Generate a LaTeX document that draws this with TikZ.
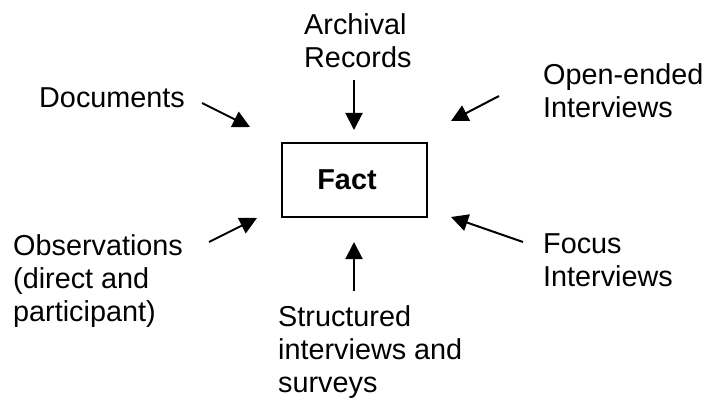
\documentclass[tikz,border=0pt]{standalone}
\usepackage{fontspec}
\setmainfont{Liberation Sans}
\usetikzlibrary{arrows.meta}
\begin{document}
\begin{tikzpicture}[x=1pt, y=-1pt,
  % multi-line labels are anchored at the baseline of their last line
  lbl/.style={anchor=base west, inner sep=0pt, align=left,
    font=\fontsize{28.8}{33}\selectfont},
  factbox/.style={draw, line width=1.5pt, minimum width=145pt, minimum height=74pt,
    inner sep=0pt, font=\fontsize{28.8}{33}\selectfont\bfseries},
  feed/.style={line width=2pt, -{Triangle[width=17pt,length=17pt]}}]
  \useasboundingbox (0,0) rectangle (706,398);

  % central box
  \node[factbox] (fact) at (354.5,180) {\hspace*{-15pt}Fact};

  % sources of evidence
  \node[lbl] (docs) at (39,108) {Documents};
  \node[lbl] (arch) at (304,68) {Archival\\Records};
  \node[lbl] (open) at (543,118) {Open-ended\\Interviews};
  \node[lbl] (obs)  at (13,321) {Observations\\(direct and\\participant)};
  \node[lbl] (foc)  at (543,286) {Focus\\Interviews};
  \node[lbl] (str)  at (278,392) {Structured\\interviews and\\surveys};

  % arrow ends
  \coordinate (docsA) at (202,103);  \coordinate (docsB) at (250,127);
  \coordinate (archA) at (354,80);   \coordinate (archB) at (354,130);
  \coordinate (openA) at (499,96);   \coordinate (openB) at (451,121);
  \coordinate (obsA)  at (209,242);  \coordinate (obsB)  at (257,218);
  \coordinate (focA)  at (523,242);  \coordinate (focB)  at (451,217);
  \coordinate (strA)  at (354,291);  \coordinate (strB)  at (354,242);

  \draw[feed] (docsA) -- (docsB);
  \draw[feed] (archA) -- (archB);
  \draw[feed] (openA) -- (openB);
  \draw[feed] (obsA) -- (obsB);
  \draw[feed] (focA) -- (focB);
  \draw[feed] (strA) -- (strB);
\end{tikzpicture}
\end{document}
